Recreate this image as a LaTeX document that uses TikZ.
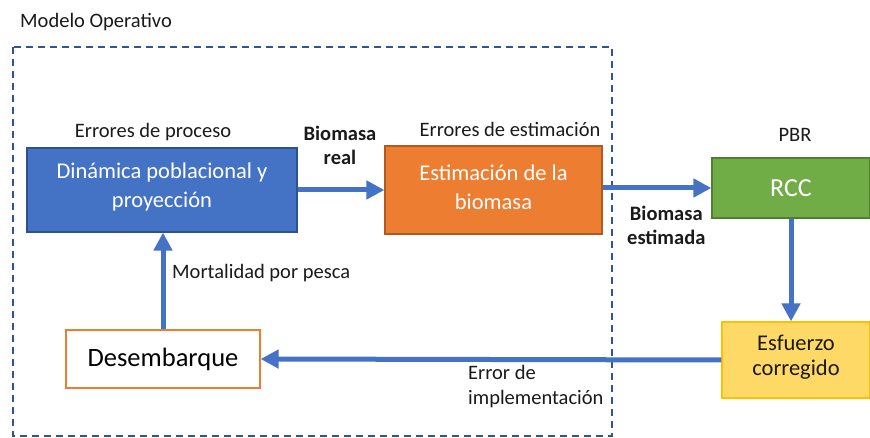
\documentclass[tikz,border=0pt]{standalone}
\usepackage{fontspec}
\setmainfont{Carlito}
\usepackage{tikz}
\usetikzlibrary{arrows.meta,shapes,calc,positioning}

\definecolor{azul}{HTML}{4472C4}
\definecolor{azulborde}{HTML}{2F528F}
\definecolor{naranja}{HTML}{ED7D31}
\definecolor{naranjaborde}{HTML}{AE5A21}
\definecolor{verde}{HTML}{70AD47}
\definecolor{verdeborde}{HTML}{507E32}
\definecolor{amarillo}{HTML}{FFD966}
\definecolor{amarilloborde}{HTML}{FFC000}
\definecolor{marco}{HTML}{2F5597}
\definecolor{texto}{HTML}{1A1A1A}

\tikzset{
  caja/.style={draw, line width=1.2pt, align=center, inner sep=2pt,
    font=\fontsize{22.5}{29}\selectfont, text=white},
  etiqueta/.style={font=\fontsize{20.5}{25}\selectfont, text=texto, inner sep=0pt},
  negrita/.style={etiqueta, font=\fontsize{20.5}{24}\selectfont\bfseries, align=center},
  flujo/.style={draw=azul, line width=5pt, arrows={-Triangle[length=18pt,width=18pt]}}
}

\begin{document}
\begin{tikzpicture}[x=1pt,y=-1pt]
	\useasboundingbox (0,0) rectangle (870,438);
	
	% marco del modelo operativo
	\node[etiqueta, anchor=west] (modelo) at (20,22) {Modelo Operativo};
	\coordinate (marcoA) at (13,47);
	\coordinate (marcoB) at (612,436);
	\draw[marco, line width=1.3pt, dash pattern=on 7pt off 5pt] (marcoA) rectangle (marcoB);
	
	% cajas
	\node[caja, draw=azulborde, fill=azul, minimum width=270pt, minimum height=84pt] (dinamica) at (162,190) {Dinámica poblacional y\\proyección\vspace{6pt}};
	\node[caja, draw=naranjaborde, fill=naranja, minimum width=217pt, minimum height=88pt] (estimacion) at (493.5,190) {Estimación de la\\biomasa\vspace{6pt}};
	\node[caja, draw=verdeborde, fill=verde, font=\fontsize{26}{30}\selectfont, minimum width=158pt, minimum height=60pt] (rcc) at (791,188) {RCC\vspace{4pt}};
	\node[caja, draw=amarilloborde, fill=amarillo, text=texto, font=\fontsize{22.5}{25}\selectfont, minimum width=148pt, minimum height=76pt] (esfuerzo) at (796,360) {Esfuerzo\\corregido\vspace{6pt}};
	\node[caja, draw=naranja, fill=white, text=black, font=\fontsize{26.5}{30}\selectfont, minimum width=194pt, minimum height=58pt] (desembarque) at (163,359) {Desembarque};
	
	% etiquetas
	\node[etiqueta] (proceso) at (153,132) {Errores de proceso};
	\node[etiqueta] (errest) at (510,129) {Errores de estimación};
	\node[etiqueta] (pbr) at (795,135) {PBR};
	\node[negrita] (real) at (340,145) {Biomasa\\real};
	\node[negrita, anchor=west] (estimada) at (627,225) {Biomasa\\estimada};
	\node[etiqueta, anchor=west] (mortalidad) at (172,273) {Mortalidad por pesca};
	\node[etiqueta, anchor=west, align=left] (implementacion) at (468,387) {Error de\\implementación};
	
	% flechas
	\draw[flujo] (dinamica.east) -- (estimacion.west);
	\draw[flujo] (estimacion.east |- rcc) -- (rcc.west);
	\draw[flujo] (rcc.south) -- (rcc.south |- esfuerzo.north);
	\draw[flujo] (esfuerzo.west) -- (desembarque.east);
	\draw[flujo] (desembarque.north) -- (desembarque.north |- dinamica.south);
\end{tikzpicture}
\end{document}
